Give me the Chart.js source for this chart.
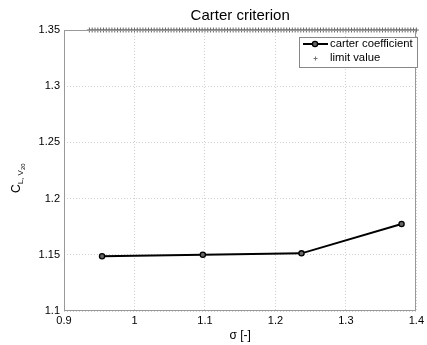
<!DOCTYPE html>
<html>
<head>
<meta charset="utf-8">
<script src="https://cdn.jsdelivr.net/npm/chart.js@4"></script>
<style>
  html, body { margin: 0; padding: 0; background: #fff; }
  #wrap { width: 427px; height: 345px; }
</style>
</head>
<body>
<div id="wrap"><canvas id="carter-chart"></canvas></div>
<script>
// carter coefficient values
const sigma = [0.954, 1.097, 1.237, 1.379];
const carterCoeff = [1.1487, 1.1501, 1.1513, 1.1774];

// limit value, drawn as + markers along the top
const limitValue = 1.35;
const limitSigma = [
  0.936, 0.940, 0.944, 0.948, 0.952, 0.956, 0.960, 0.964, 0.968, 0.972, 0.976, 0.980, 0.984, 0.988, 0.992, 0.996,
  1.000, 1.004, 1.008, 1.012, 1.016, 1.020, 1.024, 1.028, 1.032, 1.036, 1.040, 1.044, 1.048, 1.052, 1.056, 1.060, 1.064, 1.068, 1.072, 1.076, 1.080, 1.084, 1.088, 1.092, 1.096,
  1.100, 1.104, 1.108, 1.112, 1.116, 1.120, 1.124, 1.128, 1.132, 1.136, 1.140, 1.144, 1.148, 1.152, 1.156, 1.160, 1.164, 1.168, 1.172, 1.176, 1.180, 1.184, 1.188, 1.192, 1.196,
  1.200, 1.204, 1.208, 1.212, 1.216, 1.220, 1.224, 1.228, 1.232, 1.236, 1.240, 1.244, 1.248, 1.252, 1.256, 1.260, 1.264, 1.268, 1.272, 1.276, 1.280, 1.284, 1.288, 1.292, 1.296,
  1.300, 1.304, 1.308, 1.312, 1.316, 1.320, 1.324, 1.328, 1.332, 1.336, 1.340, 1.344, 1.348, 1.352, 1.356, 1.360, 1.364, 1.368, 1.372, 1.376, 1.380, 1.384, 1.388, 1.392, 1.396,
  1.400
];

// axis ticks
const xTicks = [0.9, 1.0, 1.1, 1.2, 1.3, 1.4];
const yTicks = [1.1, 1.15, 1.2, 1.25, 1.3, 1.35];

const FONT = '"Liberation Sans", Arial, sans-serif';

// title, axis labels, frame and legend
const decorations = {
  id: 'decorations',
  afterDraw(chart) {
    const ctx = chart.ctx;
    const a = chart.chartArea;
    ctx.save();

    // frame
    ctx.strokeStyle = '#999';
    ctx.lineWidth = 1;
    ctx.strokeRect(Math.round(a.left) + 0.5, Math.round(a.top) + 0.5,
      Math.round(a.right - a.left) - 1, Math.round(a.bottom - a.top) - 1);

    // title
    ctx.fillStyle = '#000';
    ctx.font = '15px ' + FONT;
    ctx.textAlign = 'center';
    ctx.textBaseline = 'alphabetic';
    ctx.fillText('Carter criterion', (a.left + a.right) / 2, 20);

    // x label
    ctx.font = '12px ' + FONT;
    ctx.fillText('\u03c3 [-]', (a.left + a.right) / 2, 339);

    // y label with subscripts
    ctx.save();
    ctx.translate(20, 193);
    ctx.rotate(-Math.PI / 2);
    ctx.textAlign = 'left';
    ctx.font = '12px ' + FONT;
    ctx.fillText('C', 0, 0);
    let w = ctx.measureText('C').width;
    ctx.font = '8px ' + FONT;
    ctx.fillText('L, V', w, 3);
    w += ctx.measureText('L, V').width;
    ctx.font = '6px ' + FONT;
    ctx.fillText('20', w, 5);
    ctx.restore();

    // legend
    const lx = 299, ly = 37, lw = 118, lh = 30;
    ctx.fillStyle = '#fff';
    ctx.fillRect(lx, ly, lw, lh);
    ctx.strokeStyle = '#888';
    ctx.strokeRect(lx + 0.5, ly + 0.5, lw, lh);

    ctx.strokeStyle = '#000';
    ctx.lineWidth = 2;
    ctx.beginPath();
    ctx.moveTo(303, 44);
    ctx.lineTo(328, 44);
    ctx.stroke();
    ctx.lineWidth = 1.3;
    ctx.beginPath();
    ctx.arc(315, 44, 2.6, 0, Math.PI * 2);
    ctx.fillStyle = '#666';
    ctx.fill();
    ctx.stroke();

    ctx.strokeStyle = '#777';
    ctx.lineWidth = 1;
    ctx.beginPath();
    ctx.moveTo(313.5, 58.5); ctx.lineTo(317.5, 58.5);
    ctx.moveTo(315.5, 56.5); ctx.lineTo(315.5, 60.5);
    ctx.stroke();

    ctx.fillStyle = '#000';
    ctx.font = '11.3px ' + FONT;
    ctx.textBaseline = 'middle';
    ctx.textAlign = 'left';
    ctx.fillText('carter coefficient', 330, 44);
    ctx.fillText('limit value', 330, 58);

    ctx.restore();
  }
};

new Chart(document.getElementById('carter-chart'), {
  type: 'scatter',
  data: {
    datasets: [
      {
        label: 'carter coefficient',
        data: sigma.map((s, i) => ({ x: s, y: carterCoeff[i] })),
        showLine: true,
        borderColor: '#000',
        borderWidth: 2,
        pointRadius: 2.6,
        pointBorderWidth: 1.3,
        pointBorderColor: '#000',
        pointBackgroundColor: '#666',
        order: 1
      },
      {
        label: 'limit value',
        data: limitSigma.map(s => ({ x: s, y: limitValue })),
        pointStyle: 'cross',
        pointRadius: 2.5,
        borderWidth: 1,
        borderColor: '#666',
        backgroundColor: '#666',
        clip: false,
        order: 2
      }
    ]
  },
  options: {
    responsive: true,
    maintainAspectRatio: false,
    animation: false,
    layout: { padding: { top: 30, right: 7, left: 0, bottom: 0 } },
    plugins: {
      legend: { display: false },
      title: { display: false },
      tooltip: { enabled: false }
    },
    scales: {
      x: {
        type: 'linear',
        min: 0.9,
        max: 1.4,
        afterBuildTicks(scale) { scale.ticks = xTicks.map(v => ({ value: v })); },
        afterFit(scale) { scale.height = 34; },
        ticks: {
          color: '#000',
          font: { family: FONT, size: 11 },
          padding: 3,
          maxRotation: 0,
          autoSkip: false,
          callback: v => String(+v.toFixed(2))
        },
        grid: { color: '#d0d0d0', drawTicks: false },
        border: { display: false, dash: [1, 2] }
      },
      y: {
        type: 'linear',
        min: 1.1,
        max: 1.35,
        afterBuildTicks(scale) { scale.ticks = yTicks.map(v => ({ value: v })); },
        afterFit(scale) { scale.width = 64; },
        ticks: {
          color: '#000',
          font: { family: FONT, size: 11 },
          padding: 4,
          autoSkip: false,
          callback: v => String(+v.toFixed(2))
        },
        grid: { color: '#d0d0d0', drawTicks: false },
        border: { display: false, dash: [1, 2] }
      }
    }
  },
  plugins: [decorations]
});
</script>
</body>
</html>
